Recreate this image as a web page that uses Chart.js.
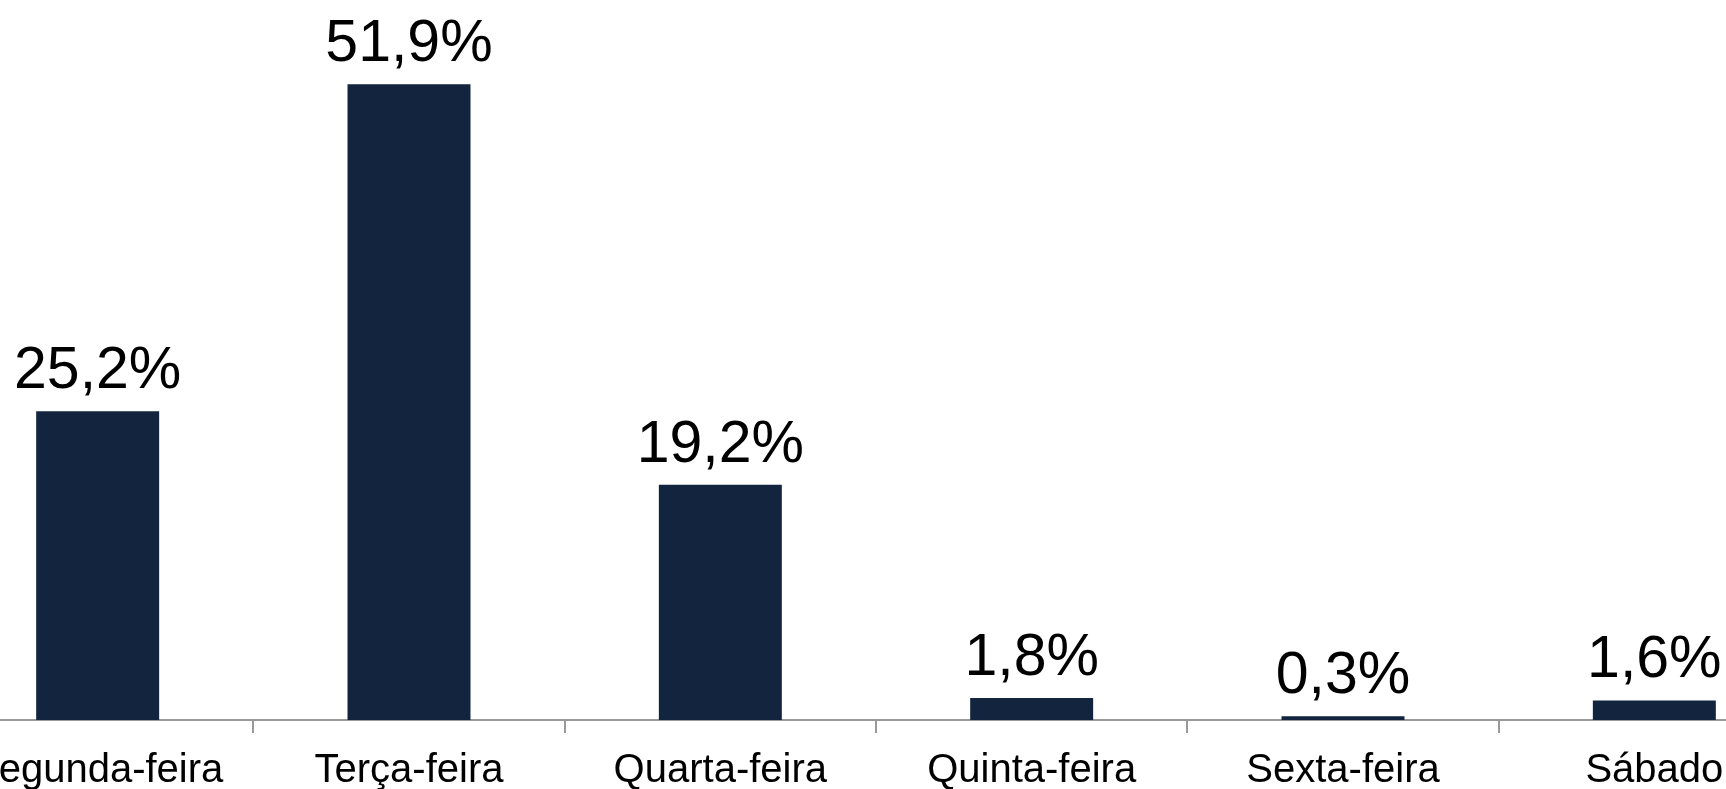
<!DOCTYPE html>
<html>
<head>
<meta charset="utf-8">
<script src="https://cdn.jsdelivr.net/npm/chart.js@4/dist/chart.umd.min.js"></script>
<style>
  html, body { margin:0; padding:0; background:#fff; overflow:hidden; width:1726px; height:789px; }
  #wrap { position:absolute; left:-58px; top:-15px; width:1868px; height:835px; }
</style>
</head>
<body>
<div id="wrap"><canvas id="chart"></canvas></div>
<script>
// dias da semana e percentuais
const days = ['Segunda-feira', 'Terça-feira', 'Quarta-feira', 'Quinta-feira', 'Sexta-feira', 'Sábado'];
const shares = [25.2, 51.9, 19.2, 1.8, 0.3, 1.6];
const yMax = 60;

const barColor = '#12243e';
const axisColor = '#999999';

// valor em cima de cada barra
const valueLabels = {
  id: 'valueLabels',
  afterDatasetsDraw(chart){
    const ctx = chart.ctx;
    const meta = chart.getDatasetMeta(0);
    ctx.save();
    ctx.font = '59px "Liberation Sans", Arial, sans-serif';
    ctx.fillStyle = '#000';
    ctx.textAlign = 'center';
    ctx.textBaseline = 'alphabetic';
    meta.data.forEach((bar, i)=>{
      const txt = shares[i].toFixed(1).replace('.', ',') + '%';
      ctx.fillText(txt, bar.x, bar.y - 23);
    });
    ctx.restore();
  }
};

new Chart(document.getElementById('chart').getContext('2d'), {
  type: 'bar',
  data: {
    labels: days,
    datasets: [{ data: shares, backgroundColor: barColor, borderWidth: 0,
                 barPercentage: 0.395, categoryPercentage: 1 }]
  },
  options: {
    responsive: true,
    maintainAspectRatio: false,
    devicePixelRatio: 1,
    animation: false,
    layout: { padding: 0 },
    plugins: { legend: { display: false }, tooltip: { enabled: false } },
    scales: {
      x: {
        grid: { drawOnChartArea: false, color: axisColor, lineWidth: 2, tickLength: 13, offset: true },
        border: { color: axisColor, width: 2 },
        ticks: { color: '#000', padding: 14, maxRotation: 0, autoSkip: false,
                 font: { family: '"Liberation Sans", Arial, sans-serif', size: 40 } },
        afterFit(scale){ scale.height = 100; }
      },
      y: { display: false, min: 0, max: yMax }
    }
  },
  plugins: [valueLabels]
});
</script>
</body>
</html>
